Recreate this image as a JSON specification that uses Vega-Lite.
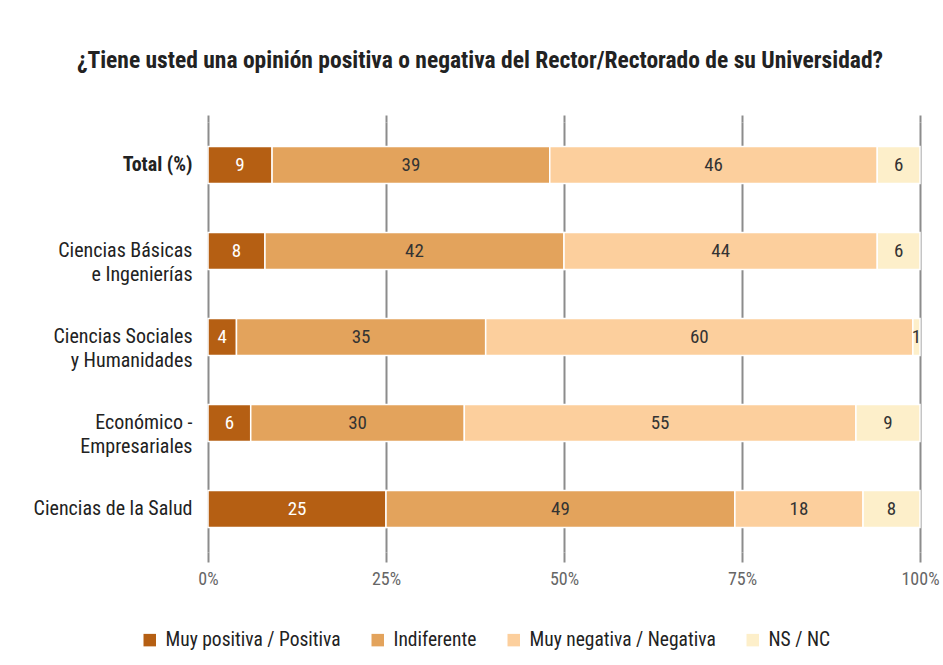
{
  "$schema": "https://vega.github.io/schema/vega-lite/v6.json",
  "width": 712,
  "height": 430,
  "autosize": {"type": "none"},
  "padding": {"left": 208, "top": 122, "right": 23, "bottom": 113},
  "background": "white",
  "title": {
    "text": "¿Tiene usted una opinión positiva o negativa del Rector/Rectorado de su Universidad?",
    "anchor": "middle",
    "frame": "group",
    "dx": -84,
    "offset": 42,
    "fontSize": 23.5,
    "fontWeight": "bold",
    "color": "#222222",
    "font": "Liberation Sans Narrow, Roboto Condensed, Arial Narrow, sans-serif"
  },
  "data": {
    "values": [
      {"cat": "Total (%)", "resp": "Muy positiva / Positiva", "ord": 1, "value": 9},
      {"cat": "Total (%)", "resp": "Indiferente", "ord": 2, "value": 39},
      {"cat": "Total (%)", "resp": "Muy negativa / Negativa", "ord": 3, "value": 46},
      {"cat": "Total (%)", "resp": "NS / NC", "ord": 4, "value": 6},
      {"cat": "Ciencias Básicas|e Ingenierías", "resp": "Muy positiva / Positiva", "ord": 1, "value": 8},
      {"cat": "Ciencias Básicas|e Ingenierías", "resp": "Indiferente", "ord": 2, "value": 42},
      {"cat": "Ciencias Básicas|e Ingenierías", "resp": "Muy negativa / Negativa", "ord": 3, "value": 44},
      {"cat": "Ciencias Básicas|e Ingenierías", "resp": "NS / NC", "ord": 4, "value": 6},
      {"cat": "Ciencias Sociales|y Humanidades", "resp": "Muy positiva / Positiva", "ord": 1, "value": 4},
      {"cat": "Ciencias Sociales|y Humanidades", "resp": "Indiferente", "ord": 2, "value": 35},
      {"cat": "Ciencias Sociales|y Humanidades", "resp": "Muy negativa / Negativa", "ord": 3, "value": 60},
      {"cat": "Ciencias Sociales|y Humanidades", "resp": "NS / NC", "ord": 4, "value": 1},
      {"cat": "Económico -|Empresariales", "resp": "Muy positiva / Positiva", "ord": 1, "value": 6},
      {"cat": "Económico -|Empresariales", "resp": "Indiferente", "ord": 2, "value": 30},
      {"cat": "Económico -|Empresariales", "resp": "Muy negativa / Negativa", "ord": 3, "value": 55},
      {"cat": "Económico -|Empresariales", "resp": "NS / NC", "ord": 4, "value": 9},
      {"cat": "Ciencias de la Salud", "resp": "Muy positiva / Positiva", "ord": 1, "value": 25},
      {"cat": "Ciencias de la Salud", "resp": "Indiferente", "ord": 2, "value": 49},
      {"cat": "Ciencias de la Salud", "resp": "Muy negativa / Negativa", "ord": 3, "value": 18},
      {"cat": "Ciencias de la Salud", "resp": "NS / NC", "ord": 4, "value": 8}
    ]
  },
  "transform": [
    {"stack": "value", "groupby": ["cat"], "sort": [{"field": "ord", "order": "ascending"}], "as": ["x0", "x1"]},
    {"calculate": "(datum.x0 + datum.x1) / 2", "as": "xmid"}
  ],
  "encoding": {
    "y": {
      "field": "cat",
      "type": "nominal",
      "sort": ["Total (%)", "Ciencias Básicas|e Ingenierías", "Ciencias Sociales|y Humanidades", "Económico -|Empresariales", "Ciencias de la Salud"],
      "scale": {"paddingInner": 0.57, "paddingOuter": 0.285},
      "axis": {
        "title": null,
        "domain": false,
        "ticks": false,
        "labelPadding": 16,
        "labelFontSize": 20,
        "labelLineHeight": 24,
        "labelColor": "#222222",
        "labelFont": "Liberation Sans Narrow, Roboto Condensed, Arial Narrow, sans-serif",
        "labelFontWeight": {"condition": {"test": "datum.value == 'Total (%)'", "value": "bold"}, "value": "normal"},
        "labelExpr": "split(datum.value, '|')",
        "labelLimit": 300
      }
    }
  },
  "layer": [
    {
      "mark": {"type": "bar", "stroke": "white", "strokeWidth": 1.5},
      "encoding": {
        "x": {
          "field": "x0",
          "type": "quantitative",
          "scale": {"domain": [0, 100], "nice": false},
          "axis": {
            "title": null,
            "values": [0, 25, 50, 75, 100],
            "labelExpr": "datum.value + '%'",
            "grid": true,
            "gridColor": "#8c8c8c",
            "gridWidth": 2,
            "domain": false,
            "tickColor": "#8c8c8c",
            "tickWidth": 2,
            "tickSize": 10,
            "labelPadding": 8,
            "labelFontSize": 18,
            "labelColor": "#666666",
            "labelFont": "Liberation Sans Narrow, Roboto Condensed, Arial Narrow, sans-serif",
            "labelFlush": false
          }
        },
        "x2": {"field": "x1"},
        "color": {
          "field": "resp",
          "type": "nominal",
          "sort": ["Muy positiva / Positiva", "Indiferente", "Muy negativa / Negativa", "NS / NC"],
          "scale": {
            "domain": ["Muy positiva / Positiva", "Indiferente", "Muy negativa / Negativa", "NS / NC"],
            "range": ["#B55F13", "#E3A35C", "#FCCF9D", "#FDEFCA"]
          },
          "legend": {
            "title": null,
            "orient": "none",
            "direction": "horizontal",
            "legendX": -68,
            "legendY": 508,
            "symbolType": "square",
            "symbolSize": 156,
            "symbolStrokeWidth": 0,
            "labelFontSize": 19.5,
            "labelColor": "#222222",
            "labelFont": "Liberation Sans Narrow, Roboto Condensed, Arial Narrow, sans-serif",
            "labelOffset": 6,
            "columnPadding": 27,
            "labelLimit": 300
          }
        },
        "order": {"field": "ord"}
      }
    },
    {
      "mark": {"type": "text", "fontSize": 19, "font": "Liberation Sans Narrow, Roboto Condensed, Arial Narrow, sans-serif", "baseline": "middle", "align": "center"},
      "encoding": {
        "x": {"field": "xmid", "type": "quantitative", "axis": null},
        "text": {"field": "value", "type": "quantitative"},
        "color": {
          "condition": {"test": "datum.ord == 1", "value": "white"},
          "value": "#333333"
        }
      }
    },
    {
      "mark": {"type": "rule", "opacity": 0},
      "encoding": {
        "x": {
          "field": "x0",
          "type": "quantitative",
          "axis": {
            "orient": "top",
            "title": null,
            "values": [0, 25, 50, 75, 100],
            "labels": false,
            "domain": false,
            "grid": false,
            "tickColor": "#8c8c8c",
            "tickWidth": 2,
            "tickSize": 7
          }
        }
      }
    }
  ],
  "resolve": {"axis": {"x": "independent"}},
  "config": {"view": {"stroke": null}}
}
